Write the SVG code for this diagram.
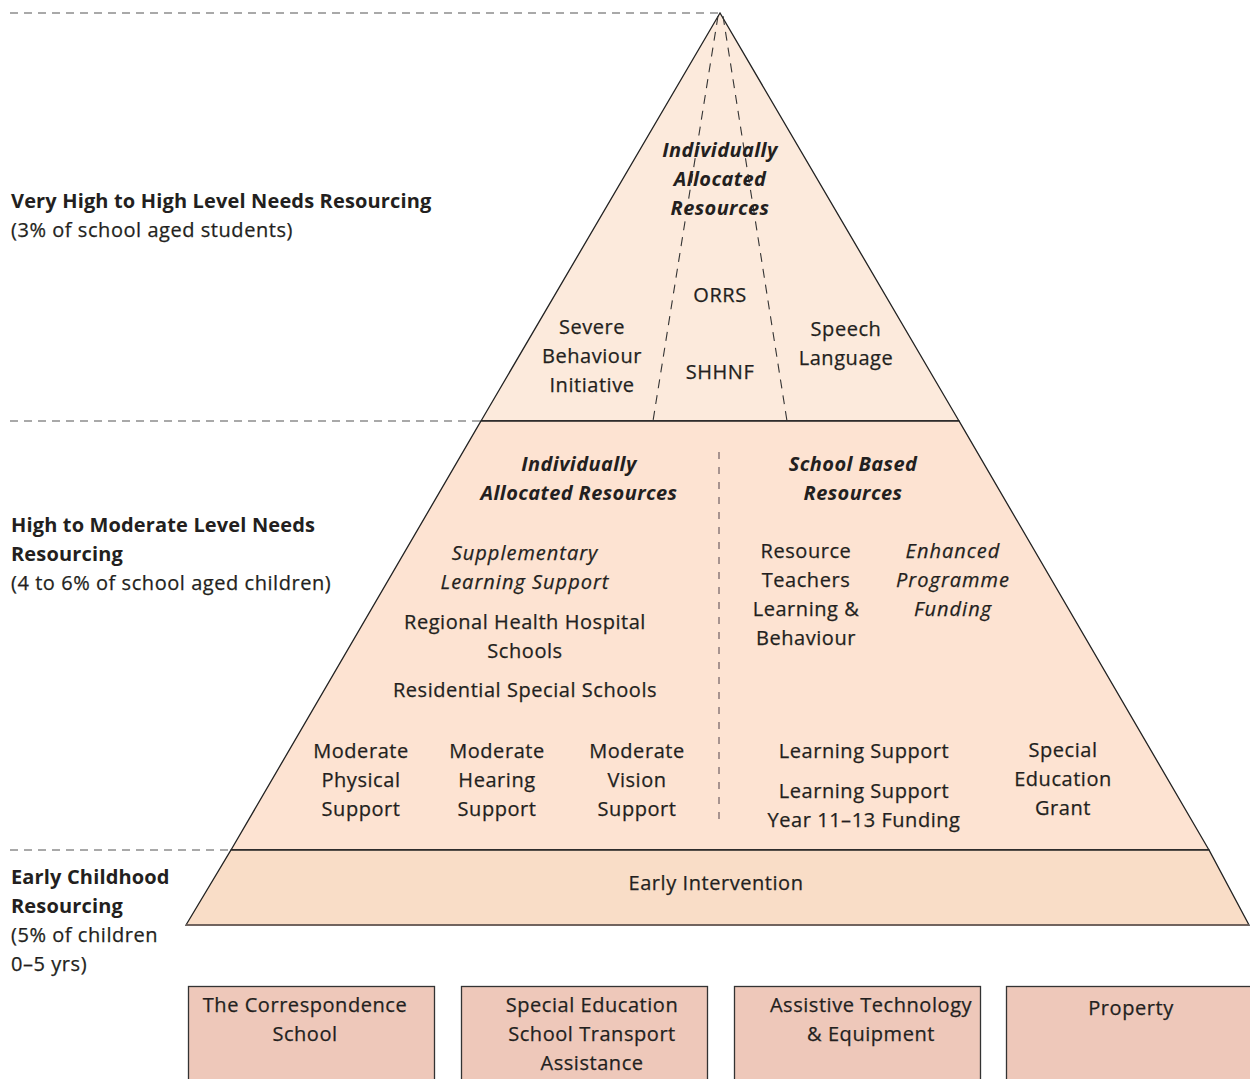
<svg xmlns="http://www.w3.org/2000/svg" width="1250" height="1079" viewBox="0 0 1250 1079">
<style>
text{font-family:"Open Sans","Noto Sans","DejaVu Sans",sans-serif;font-size:20px;fill:#231f20;letter-spacing:0.55px;stroke:#231f20;stroke-width:0.25}
.c{text-anchor:middle}
.b{font-weight:bold;letter-spacing:0.15px;stroke-width:0}
.i{font-style:italic;letter-spacing:1px}
.bi{font-weight:bold;font-style:italic;letter-spacing:0.4px;stroke-width:0}
.guide{stroke:#555;stroke-width:1.2;stroke-dasharray:8 6;fill:none}
.inner{stroke:#333;stroke-width:1.1;stroke-dasharray:9 7;fill:none}
.vdash{stroke:#8a7a7a;stroke-width:1.5;stroke-dasharray:7 8;fill:none}
.edge{stroke:#222;stroke-width:1.3}
.box{fill:#eec8ba;stroke:#333;stroke-width:1.3}
</style>
<rect width="1250" height="1079" fill="#ffffff"/>
<g id="guides">
<line class="guide" x1="10" y1="13" x2="720" y2="13"/>
<line class="guide" x1="10" y1="421" x2="481" y2="421"/>
<line class="guide" x1="10" y1="850" x2="231" y2="850"/>
</g>
<g id="tier-top">
<polygon points="720,13 481,421 959,421" fill="#fceadc" class="edge"/>
<line class="inner" x1="718" y1="16" x2="653" y2="421"/>
<line class="inner" x1="723" y1="16" x2="787" y2="421"/>
<text class="c bi" x="720" y="157">Individually</text>
<text class="c bi" x="720" y="186">Allocated</text>
<text class="c bi" x="720" y="215">Resources</text>
<text class="c" x="720" y="302">ORRS</text>
<text class="c" x="720" y="379">SHHNF</text>
<text class="c" x="592" y="334">Severe</text>
<text class="c" x="592" y="363">Behaviour</text>
<text class="c" x="592" y="392">Initiative</text>
<text class="c" x="846" y="336">Speech</text>
<text class="c" x="846" y="365">Language</text>
</g>
<g id="tier-middle">
<polygon points="481,421 959,421 1209,850 231,850" fill="#fde3d2" class="edge"/>
<line class="vdash" x1="719" y1="452" x2="719" y2="826"/>
<text class="c bi" x="579" y="471">Individually</text>
<text class="c bi" x="579" y="500">Allocated Resources</text>
<text class="c bi" x="853" y="471">School Based</text>
<text class="c bi" x="853" y="500">Resources</text>
<text class="c i" x="525" y="560">Supplementary</text>
<text class="c i" x="525" y="589">Learning Support</text>
<text class="c" x="525" y="629">Regional Health Hospital</text>
<text class="c" x="525" y="658">Schools</text>
<text class="c" x="525" y="697">Residential Special Schools</text>
<text class="c" x="806" y="558">Resource</text>
<text class="c" x="806" y="587">Teachers</text>
<text class="c" x="806" y="616">Learning &amp;</text>
<text class="c" x="806" y="645">Behaviour</text>
<text class="c i" x="953" y="558">Enhanced</text>
<text class="c i" x="953" y="587">Programme</text>
<text class="c i" x="953" y="616">Funding</text>
<text class="c" x="361" y="758">Moderate</text>
<text class="c" x="361" y="787">Physical</text>
<text class="c" x="361" y="816">Support</text>
<text class="c" x="497" y="758">Moderate</text>
<text class="c" x="497" y="787">Hearing</text>
<text class="c" x="497" y="816">Support</text>
<text class="c" x="637" y="758">Moderate</text>
<text class="c" x="637" y="787">Vision</text>
<text class="c" x="637" y="816">Support</text>
<text class="c" x="864" y="758">Learning Support</text>
<text class="c" x="864" y="798">Learning Support</text>
<text class="c" x="864" y="827">Year 11–13 Funding</text>
<text class="c" x="1063" y="757">Special</text>
<text class="c" x="1063" y="786">Education</text>
<text class="c" x="1063" y="815">Grant</text>
</g>
<g id="tier-bottom">
<polygon points="231,850 1209,850 1249,925 186,925" fill="#f9ddc7" class="edge"/>
<line x1="186" y1="925" x2="1249" y2="925" stroke="#7a6a64" stroke-width="1.5"/>
<text class="c" x="716" y="890">Early Intervention</text>
</g>
<g id="label-very-high">
<text class="b" x="11" y="208">Very High to High Level Needs Resourcing</text>
<text x="11" y="237">(3% of school aged students)</text>
</g>
<g id="label-high-moderate">
<text class="b" x="11" y="532">High to Moderate Level Needs</text>
<text class="b" x="11" y="561">Resourcing</text>
<text x="11" y="590">(4 to 6% of school aged children)</text>
</g>
<g id="label-early">
<text class="b" x="11" y="884">Early Childhood</text>
<text class="b" x="11" y="913">Resourcing</text>
<text x="11" y="942">(5% of children</text>
<text x="11" y="971">0–5 yrs)</text>
</g>
<g id="box-correspondence">
<rect class="box" x="188.5" y="986.5" width="246" height="100"/>
<text class="c" x="305" y="1012">The Correspondence</text>
<text class="c" x="305" y="1041">School</text>
</g>
<g id="box-transport">
<rect class="box" x="461.5" y="986.5" width="246" height="100"/>
<text class="c" x="592" y="1012">Special Education</text>
<text class="c" x="592" y="1041">School Transport</text>
<text class="c" x="592" y="1070">Assistance</text>
</g>
<g id="box-assistive">
<rect class="box" x="734.5" y="986.5" width="246" height="100"/>
<text class="c" x="871" y="1012">Assistive Technology</text>
<text class="c" x="871" y="1041">&amp; Equipment</text>
</g>
<g id="box-property">
<rect class="box" x="1006.5" y="986.5" width="250" height="100"/>
<text class="c" x="1131" y="1015">Property</text>
</g>
</svg>
